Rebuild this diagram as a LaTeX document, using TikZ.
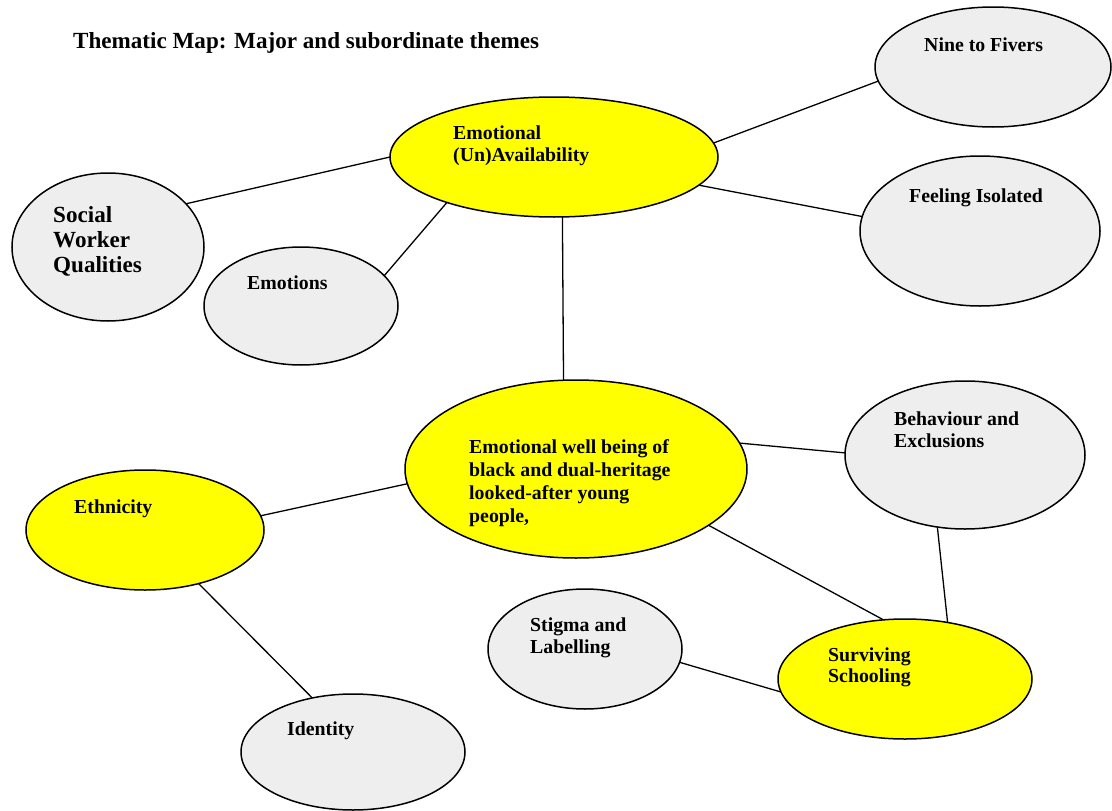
\documentclass[tikz,border=0pt]{standalone}
\usepackage{fontspec}
\setmainfont{Liberation Serif}
\usetikzlibrary{shapes.geometric}
\definecolor{themeyellow}{HTML}{FFFF00}
\definecolor{themegrey}{HTML}{EEEEEE}
\tikzset{
  theme/.style={ellipse, draw=black, line width=1.5pt, inner sep=0pt, outer sep=0pt},
  major/.style={theme, fill=themeyellow},
  minor/.style={theme, fill=themegrey},
  link/.style={draw=black, line width=1.3pt},
  lbl/.style={anchor=base west, inner sep=0pt, font=\bfseries\fontsize{19.8}{22.5}\selectfont},
  biglbl/.style={anchor=base west, inner sep=0pt, font=\bfseries\fontsize{23.1}{25}\selectfont},
}
\newcommand\stack[1]{\vtop{#1}}
\begin{document}
\begin{tikzpicture}[x=1pt,y=-1pt]
  \fill[white] (0,0) rectangle (1112,811);
  \useasboundingbox (0,0) rectangle (1112,811);

  % title
  \node[biglbl] (title) at (73,48) {Thematic Map: Major and subordinate themes};

  % theme ellipses
  \node[minor, minimum width=236, minimum height=120] (ntf)  at (993,67)  {};
  \node[major, minimum width=328, minimum height=120] (eu)   at (554,157) {};
  \node[minor, minimum width=192, minimum height=148] (sw)   at (108,247) {};
  \node[minor, minimum width=194, minimum height=118] (emo)  at (301,306) {};
  \node[minor, minimum width=240, minimum height=150] (fi)   at (980,231) {};
  \node[major, minimum width=342, minimum height=178] (ewb)  at (576,469) {};
  \node[minor, minimum width=240, minimum height=148] (beh)  at (965,455) {};
  \node[major, minimum width=238, minimum height=120] (eth)  at (145,530) {};
  \node[minor, minimum width=194, minimum height=120] (stig) at (585,649) {};
  \node[major, minimum width=254, minimum height=120] (surv) at (905,679) {};
  \node[minor, minimum width=224, minimum height=116] (iden) at (353,752) {};

  % labels
  \node[lbl] (ntf-t) at (924,51) {Nine to Fivers};
  \node[lbl] (eu-t) at (453,139) {\stack{\hbox{Emotional}\hbox{(Un)Availability}}};
  \node[biglbl] (sw-t) at (53,222) {\stack{\hbox{Social}\hbox{Worker}\hbox{Qualities}}};
  \node[lbl] (emo-t) at (247,289) {Emotions};
  \node[lbl] (fi-t) at (909,202) {Feeling Isolated};
  \node[lbl, font=\bfseries\fontsize{19.8}{23.3}\selectfont] (ewb-t) at (469,453)
    {\stack{\hbox{Emotional well being of}\hbox{black and dual-heritage}\hbox{looked-after young}\hbox{people,}}};
  \node[lbl] (beh-t) at (894,425) {\stack{\hbox{Behaviour and}\hbox{Exclusions}}};
  \node[lbl] (eth-t) at (74,513) {Ethnicity};
  \node[lbl] (stig-t) at (530,631) {\stack{\hbox{Stigma and}\hbox{Labelling}}};
  \node[lbl, font=\bfseries\fontsize{19.8}{21.5}\selectfont] (surv-t) at (828,661) {\stack{\hbox{Surviving}\hbox{Schooling}}};
  \node[lbl] (iden-t) at (287,735) {Identity};

  % connectors
  \draw[link] (eu.180)    -- (sw.29);
  \draw[link] (eu.-157.7) -- (emo.20.3);
  \draw[link] (eu.5.7)    -- (ntf.187.2);
  \draw[link] (eu.-11.8)  -- (fi.173.3);
  \draw[link] (eu.-82.4)  -- (ewb.98.9);
  \draw[link] (ewb.9.9)   -- (beh.179);
  \draw[link] (ewb.185.6) -- (eth.7.1);
  \draw[link] (ewb.-23.2) -- (surv.110.1);
  \draw[link] (beh.-111.1) -- (surv.53);
  \draw[link] (eth.-45)   -- (iden.127.2);
  \draw[link] (stig.-8.8) -- (surv.186.7);
\end{tikzpicture}
\end{document}
